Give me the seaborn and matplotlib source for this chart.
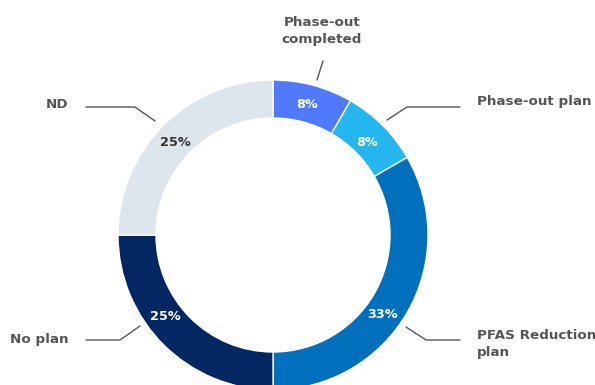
import matplotlib
matplotlib.use("Agg")
import matplotlib.pyplot as plt
import seaborn as sns

# Data
categories = ["Phase-out\ncompleted", "Phase-out plan", "PFAS Reduction\nplan", "No plan", "ND"]
shares = [8.33, 8.33, 33.33, 25.0, 25.0]
pct_labels = ["8%", "8%", "33%", "25%", "25%"]
colors = ["#4f7afc", "#24b7ef", "#0070bd", "#022763", "#dde5ed"]
pct_colors = ["white", "white", "white", "white", "#333333"]

sns.set_theme(style="white")
plt.rcParams['font.family'] = ['DejaVu Sans']

W, H = 595, 385
fig = plt.figure(figsize=(W / 100, H / 100), dpi=100)
ax = fig.add_axes([0, 0, 1, 1])

cx, cy, R = 273, 235, 155
ring = 38

wedges, _ = ax.pie(shares, colors=colors, startangle=-90, counterclock=True,
                   radius=R, center=(cx, cy), frame=True,
                   wedgeprops=dict(width=ring, edgecolor="white", linewidth=1))
ax.set_xlim(0, W)
ax.set_ylim(H, 0)
ax.set_aspect("equal")
ax.axis("off")

pct_pos = [(307, 105), (367, 143), (383, 314), (165, 316), (175, 143)]
for (x, y), t, c in zip(pct_pos, pct_labels, pct_colors):
    ax.text(x, y, t, ha="center", va="center", fontsize=9.3, fontweight="bold", color=c)

tc = "#555555"
lc = "#555555"
# leader lines
ax.plot([317, 323], [80, 61], color=lc, lw=1)
ax.plot([387, 407, 460], [120, 107, 107], color=lc, lw=1)
ax.plot([406, 426, 460], [327, 340, 340], color=lc, lw=1)
ax.plot([140, 120, 86], [326, 340, 340], color=lc, lw=1)
ax.plot([86, 135, 155], [107, 107, 121], color=lc, lw=1)

kw = dict(fontsize=9.7, fontweight="bold", color=tc, linespacing=1.45)
ax.text(322, 31, categories[0], ha="center", va="center", **kw)
ax.text(477, 102, categories[1], ha="left", va="center", **kw)
ax.text(477, 344, categories[2], ha="left", va="center", **kw)
ax.text(68, 339, categories[3], ha="right", va="center", **kw)
ax.text(68, 104, categories[4], ha="right", va="center", **kw)

fig.savefig("out.png", dpi=100)
